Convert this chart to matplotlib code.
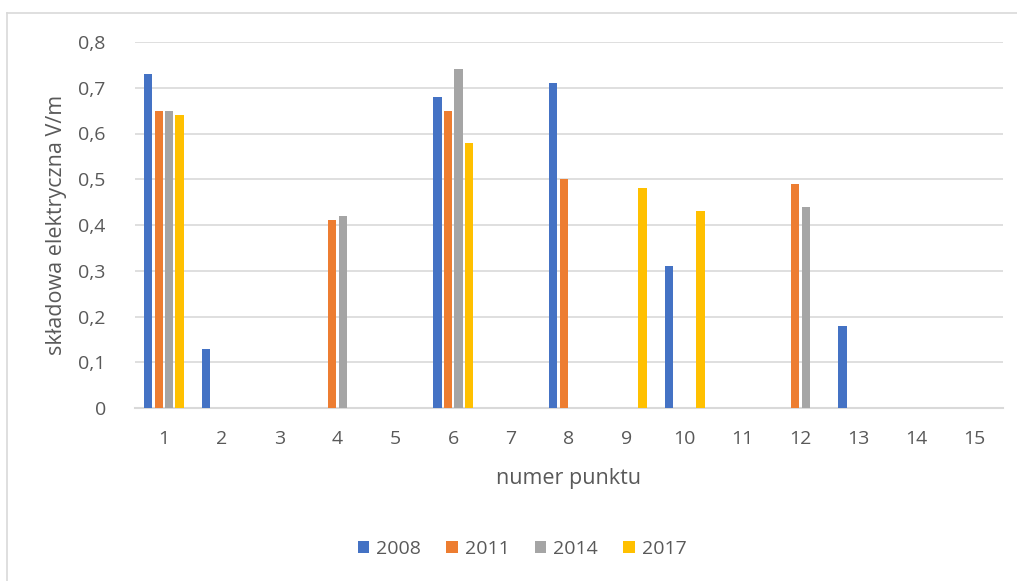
import numpy as np
import matplotlib.pyplot as plt
from matplotlib.lines import Line2D

plt.rcParams['font.family'] = ['Open Sans', 'DejaVu Sans']

# measurement points and yearly values (NaN = not measured)
points = list(range(1, 16))
years = ['2008', '2011', '2014', '2017']
nan = np.nan
v2008 = [0.73, 0.13, nan, nan, nan, 0.68, nan, 0.71, nan, 0.31, nan, nan, 0.18, nan, nan]
v2011 = [0.65, nan, nan, 0.41, nan, 0.65, nan, 0.50, nan, nan, nan, 0.49, nan, nan, nan]
v2014 = [0.65, nan, nan, 0.42, nan, 0.74, nan, nan, nan, nan, nan, 0.44, nan, nan, nan]
v2017 = [0.64, nan, nan, nan, nan, 0.58, nan, nan, 0.48, 0.43, nan, nan, nan, nan, nan]
yticks = [0, 0.1, 0.2, 0.3, 0.4, 0.5, 0.6, 0.7, 0.8]
ytick_labels = ['0', '0,1', '0,2', '0,3', '0,4', '0,5', '0,6', '0,7', '0,8']

colors = ['#4472C4', '#ED7D31', '#A5A5A5', '#FFC000']
text_col = '#595959'
grid_col = '#D9D9D9'

fig = plt.figure(figsize=(10.17, 5.81), dpi=100)
ax = fig.add_axes([135 / 1017, 1 - 408 / 581, 868 / 1017, 366 / 581])

# outer chart frame
fig.add_artist(Line2D([7 / 1017, 7 / 1017], [0, 1 - 13 / 581], transform=fig.transFigure,
                      color=grid_col, lw=1.2))
fig.add_artist(Line2D([7 / 1017, 1], [1 - 13 / 581, 1 - 13 / 581], transform=fig.transFigure,
                      color=grid_col, lw=1.2))

x = np.array(points)
pitch = 0.181
width = 0.145
for i, (vals, col) in enumerate(zip([v2008, v2011, v2014, v2017], colors)):
    ax.bar(x + (i - 1.5) * pitch, vals, width=width, color=col, label=years[i], zorder=3)

ax.set_xlim(0.5, 15.5)
ax.set_ylim(0, 0.8)
ax.set_yticks(yticks)
ax.set_yticklabels(ytick_labels)
ax.set_xticks(points)
ax.yaxis.grid(True, color=grid_col, lw=1.2, zorder=0)
ax.set_axisbelow(True)
for s in ['top', 'right', 'left']:
    ax.spines[s].set_visible(False)
ax.spines['bottom'].set_color(grid_col)
ax.spines['bottom'].set_linewidth(1.5)
ax.tick_params(length=0, labelsize=14, colors=text_col)
ax.tick_params(axis='x', pad=16)
ax.tick_params(axis='y', pad=21)

ax.set_xlabel('numer punktu', fontsize=15.5, color=text_col, labelpad=14)
ax.set_ylabel('składowa elektryczna V/m', fontsize=15.5, color=text_col, labelpad=8)

fig.legend(loc='center', bbox_to_anchor=(522 / 1017, 1 - 549 / 581), ncol=4, frameon=False,
           fontsize=14, labelcolor=text_col, handlelength=0.6, handleheight=0.6,
           handletextpad=0.35, columnspacing=1.3)

fig.savefig('out.png', dpi=100)
